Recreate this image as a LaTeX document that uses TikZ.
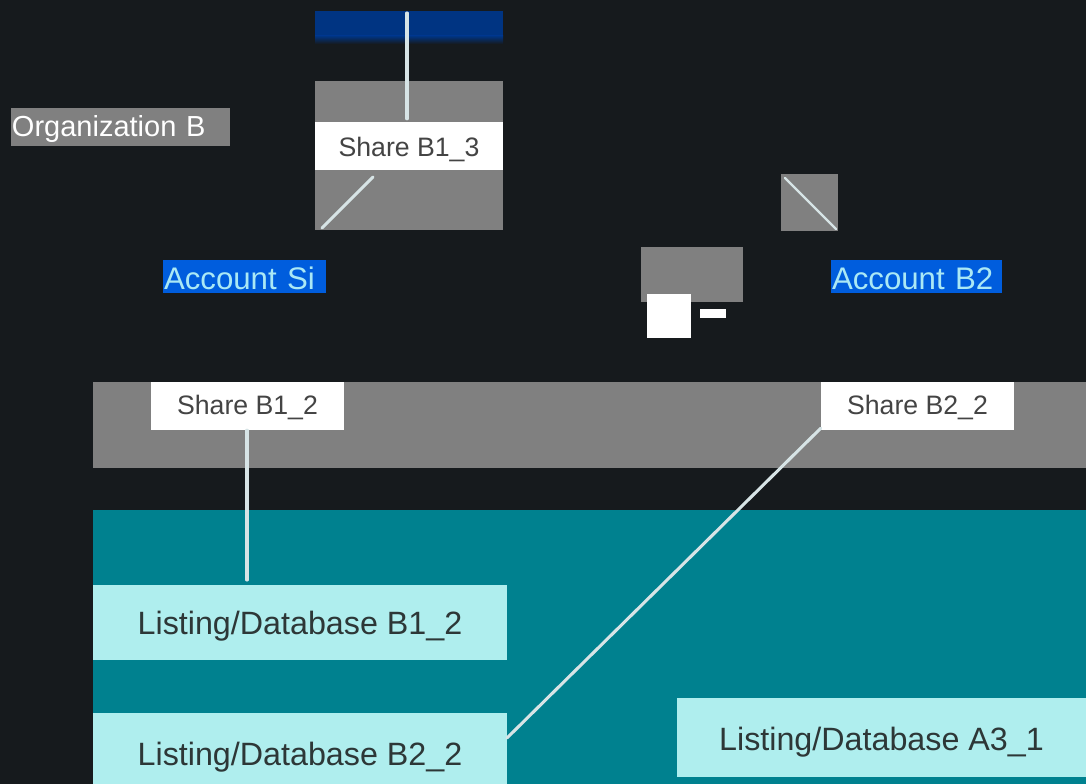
\documentclass[tikz,border=0pt]{standalone}
\usepackage{fontspec}
\setmainfont{Liberation Sans}
\definecolor{bgdark}{RGB}{22,26,29}
\definecolor{midgray}{RGB}{128,128,128}
\definecolor{labblue}{RGB}{0,93,221}
\definecolor{labtext}{RGB}{170,232,245}
\definecolor{deepblue}{RGB}{0,52,130}
\definecolor{tealbg}{RGB}{0,129,143}
\definecolor{lightcyan}{RGB}{175,238,238}
\definecolor{linecol}{RGB}{215,228,230}
\definecolor{sharetext}{RGB}{68,68,68}
\definecolor{listtext}{RGB}{45,55,55}
\tikzset{
  box/.style={inner sep=0pt, anchor=center},
  bl/.style={text height=#1, text depth=0pt},
  lab/.style={box, fill=labblue, text=labtext, align=left, inner xsep=0.75pt,
    font=\fontsize{23.4pt}{27pt}\selectfont, bl=20.25pt},
  sharebox/.style={box, fill=white, text=sharetext, minimum width=144.75pt, minimum height=36pt,
    font=\fontsize{20pt}{24pt}\selectfont},
  listbox/.style={box, fill=lightcyan, text=listtext, font=\fontsize{24.2pt}{28pt}\selectfont},
  conn/.style={draw=linecol, line width=2.3pt, line cap=round},
}
\begin{document}
\begin{tikzpicture}[x=0.75pt, y=-0.75pt]
\useasboundingbox (0,0) rectangle (1086,784);
\fill[bgdark] (0,0) rectangle (1086,784);

% ---- top labels
\node (orgB) [box, fill=midgray, text=white, align=left, inner xsep=0.75pt,
  text width=162.75pt, minimum height=28.5pt, bl=15pt,
  font=\fontsize{21.75pt}{26pt}\selectfont] at (120.5,127) {Organization B};
\node (accSi) [lab, text width=120.75pt, minimum height=24.75pt] at (244.5,276.5) {Account Si};
\node (accB2) [lab, text width=126.75pt, minimum height=24.75pt] at (916.5,276.5) {Account B2};

% ---- top cropped picture
\fill[deepblue] (315,11) rectangle (503,36);
\shade[top color=deepblue, bottom color=bgdark] (315,36) rectangle (503,44);
\fill[midgray] (315,81) rectangle (503,122);
\fill[midgray] (315,170) rectangle (503,230);
\node (shareB13) [sharebox, minimum width=141pt, bl=16.5pt] at (409,146) {Share B1\_3};
\coordinate (topUp) at (407,13);
\coordinate (diagA) at (322,228);
\coordinate (diagB) at (373,177);
\draw[conn] (shareB13.north -| topUp) ++(0,-3) -- (topUp);
\draw[conn] (diagA) -- (diagB);

% ---- small fragments
\fill[midgray] (781,174) rectangle (838,231);
\coordinate (sqA) at (785,178);
\coordinate (sqB) at (836,229);
\draw[conn, line width=1.8pt] (sqA) -- (sqB);
\fill[midgray] (641,247) rectangle (743,302);
\fill[white] (647,294) rectangle (691,338);
\fill[white] (700,309) rectangle (726,318);

% ---- bottom cropped picture
\fill[midgray] (93,382) rectangle (1086,468);
\fill[tealbg] (93,510) rectangle (1086,784);

\node (shareB12) [sharebox, bl=13.5pt] at (247.5,406) {Share B1\_2};
\node (shareB22) [sharebox, bl=13.5pt] at (917.5,406) {Share B2\_2};
\node (listB12) [listbox, minimum width=310.5pt, minimum height=56.25pt, bl=17.25pt] at (300,622.5) {Listing/Database B1\_2};
\node (listB22) [listbox, minimum width=310.5pt, minimum height=53.25pt, bl=24.75pt] at (300,748.5) {Listing/Database B2\_2};
\node (listA31) [listbox, minimum width=306.75pt, minimum height=59.25pt, bl=18.75pt] at (881.5,737.5) {Listing/Database A3\_1};

\coordinate (b12end) at (247,580);
\coordinate (b22end) at (507,738);
\draw[conn] (shareB12.south -| b12end) -- (b12end);
\draw[conn] (shareB22.south west) ++(0,-2) -- (b22end);
\end{tikzpicture}
\end{document}
